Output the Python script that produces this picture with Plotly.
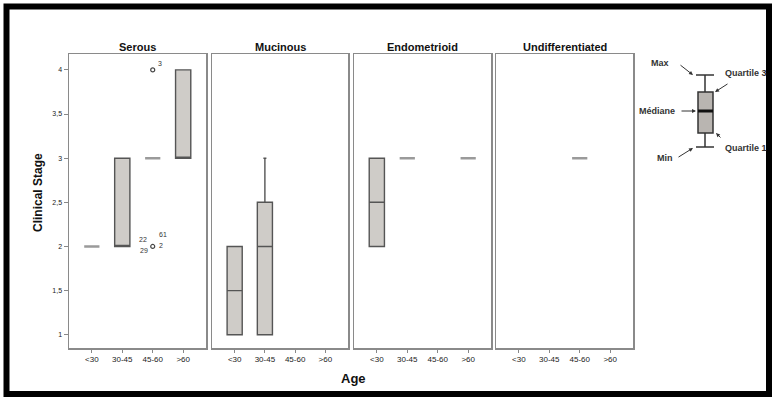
import plotly.graph_objects as go

W, H = 777, 404

# ---------------- data ----------------
age_groups = ["<30", "30-45", "45-60", ">60"]
histologies = ["Serous", "Mucinous", "Endometrioid", "Undifferentiated"]
y_tick_vals = [1, 1.5, 2, 2.5, 3, 3.5, 4]
y_tick_text = ["1", "1,5", "2", "2,5", "3", "3,5", "4"]

# box statistics per histology (Clinical Stage by age group)
serous_age = ["<30", "30-45", "45-60", ">60"]
serous_min = [2, 2, 3, 3]
serous_q1 = [2, 2, 3, 3]
serous_median = [2, 2, 3, 3]
serous_q3 = [2, 3, 3, 4]
serous_max = [2, 3, 3, 4]

mucinous_age = ["<30", "30-45"]
mucinous_min = [1, 1]
mucinous_q1 = [1, 1]
mucinous_median = [1.5, 2]
mucinous_q3 = [2, 2.5]
mucinous_max = [2, 3]

endometrioid_age = ["<30", "30-45", ">60"]
endometrioid_min = [2, 3, 3]
endometrioid_q1 = [2, 3, 3]
endometrioid_median = [2.5, 3, 3]
endometrioid_q3 = [3, 3, 3]
endometrioid_max = [3, 3, 3]

undiff_age = ["45-60"]
undiff_min = [3]
undiff_q1 = [3]
undiff_median = [3]
undiff_q3 = [3]
undiff_max = [3]

# outliers (Serous panel) with case labels
serous_outlier_age = ["45-60", "45-60"]
serous_outlier_val = [4, 2]
serous_outlier_labels = [["3"], ["22", "61", "2", "29"]]

panels = [
    (serous_age, serous_min, serous_q1, serous_median, serous_q3, serous_max),
    (mucinous_age, mucinous_min, mucinous_q1, mucinous_median, mucinous_q3, mucinous_max),
    (endometrioid_age, endometrioid_min, endometrioid_q1, endometrioid_median, endometrioid_q3, endometrioid_max),
    (undiff_age, undiff_min, undiff_q1, undiff_median, undiff_q3, undiff_max),
]

# ---------------- layout helpers ----------------
def px(x):
    return x / W

def py(y):
    return 1 - y / H

panel_x = [(69, 206), (212, 348), (354, 491), (496, 633)]
panel_top, panel_bottom = 54, 348

FONT = "Liberation Sans"
fig = go.Figure()

for i, (ages, mn, q1, med, q3, mx) in enumerate(panels):
    xa = "x" if i == 0 else f"x{i+1}"
    ya = "y" if i == 0 else f"y{i+1}"
    for j in range(len(ages)):
        flat = q1[j] == q3[j]
        fig.add_trace(go.Box(
            x=[ages[j]], q1=[q1[j]], median=[med[j]], q3=[q3[j]],
            lowerfence=[mn[j]], upperfence=[mx[j]],
            width=0.5, whiskerwidth=0.2,
            fillcolor="#cfccc8" if not flat else "rgba(0,0,0,0)",
            line=dict(color="#9a9a9a" if flat else "#555555", width=2.6 if flat else 1.4),
            boxpoints=False, showlegend=False, hoverinfo="skip",
            xaxis=xa, yaxis=ya,
        ))

# outliers
fig.add_trace(go.Scatter(
    x=serous_outlier_age, y=serous_outlier_val, mode="markers",
    marker=dict(symbol="circle-open", size=4, color="#444444", line=dict(width=1.2)),
    showlegend=False, hoverinfo="skip", xaxis="x", yaxis="y",
))
label_offsets = [[(7, 6)], [(-10, 7), (10, 12), (8, 1), (-9, -4)]]
annotations = []
for k in range(len(serous_outlier_val)):
    for lab, (dx, dy) in zip(serous_outlier_labels[k], label_offsets[k]):
        annotations.append(dict(
            x=serous_outlier_age[k], y=serous_outlier_val[k], xref="x", yref="y",
            text=lab, showarrow=False, xshift=dx, yshift=dy,
            xanchor="center", yanchor="middle",
            font=dict(family=FONT, size=7, color="#333333"),
        ))

layout_axes = {}
for i, (x0, x1) in enumerate(panel_x):
    sfx = "" if i == 0 else str(i + 1)
    layout_axes[f"xaxis{sfx}"] = dict(
        domain=[px(x0), px(x1)], anchor=f"y{sfx}",
        type="category", categoryorder="array", categoryarray=age_groups,
        range=[-0.75, 3.75], tickmode="array", tickvals=age_groups, ticktext=age_groups,
        ticks="outside", ticklen=3, tickcolor="#888888", tickwidth=1,
        tickfont=dict(family=FONT, size=8, color="#222222"),
        showline=True, linecolor="#8a8a8a", linewidth=1.5, mirror=True,
        showgrid=False, zeroline=False, fixedrange=True,
    )
    layout_axes[f"yaxis{sfx}"] = dict(
        domain=[py(panel_bottom), py(panel_top)], anchor=f"x{sfx}",
        range=[0.85, 4.18], tickmode="array", tickvals=y_tick_vals, ticktext=y_tick_text,
        ticks="outside" if i == 0 else "", ticklen=4, tickcolor="#888888",
        showticklabels=(i == 0),
        tickfont=dict(family=FONT, size=7, color="#222222"),
        showline=True, linecolor="#8a8a8a", linewidth=1.5, mirror=True,
        showgrid=False, zeroline=False, fixedrange=True,
    )
    annotations.append(dict(
        x=px((x0 + x1) / 2), y=py(47), xref="paper", yref="paper",
        xanchor="center", yanchor="middle",
        text=f"<b>{histologies[i]}</b>", showarrow=False,
        font=dict(family=FONT, size=11, color="#111111"),
    ))

# axis titles
annotations.append(dict(x=px(38), y=py(193), xref="paper", yref="paper",
                        xanchor="center", yanchor="middle",
                        text="<b>Clinical Stage</b>", textangle=-90, showarrow=False,
                        font=dict(family=FONT, size=12, color="#111111")))
annotations.append(dict(x=px(353), y=py(378), xref="paper", yref="paper",
                        xanchor="center", yanchor="middle",
                        text="<b>Age</b>", showarrow=False,
                        font=dict(family=FONT, size=13, color="#111111")))

# ---------------- explanatory box legend ----------------
shapes = []
lg = "#333333"
shapes.append(dict(type="line", xref="paper", yref="paper", x0=px(705), x1=px(705), y0=py(75), y1=py(92), line=dict(color=lg, width=1.5)))
shapes.append(dict(type="line", xref="paper", yref="paper", x0=px(705), x1=px(705), y0=py(133), y1=py(147), line=dict(color=lg, width=1.5)))
shapes.append(dict(type="line", xref="paper", yref="paper", x0=px(696), x1=px(714), y0=py(75), y1=py(75), line=dict(color=lg, width=1.5)))
shapes.append(dict(type="line", xref="paper", yref="paper", x0=px(696), x1=px(714), y0=py(147), y1=py(147), line=dict(color=lg, width=1.5)))
shapes.append(dict(type="rect", xref="paper", yref="paper", x0=px(698), x1=px(713), y0=py(133), y1=py(92),
                   fillcolor="#b9b5b1", line=dict(color=lg, width=1.5)))
shapes.append(dict(type="line", xref="paper", yref="paper", x0=px(698), x1=px(713), y0=py(111), y1=py(111), line=dict(color="#111111", width=3)))

legend_font = dict(family=FONT, size=9, color="#333333")
legend_items = [
    ("<b>Max</b>", 660, 63, "center", (679, 64), (693, 75)),
    ("<b>Médiane</b>", 677, 111, "right", (680, 111), (696, 111)),
    ("<b>Min</b>", 665, 158, "center", (677, 158), (693, 148)),
    ("<b>Quartile 3</b>", 723, 73, "left", (729, 83), (715, 92)),
    ("<b>Quartile 1</b>", 723, 148, "left", (722, 139), (716, 133)),
]
for txt, tx, ty, anchor, (ax0, ay0), (ax1, ay1) in legend_items:
    annotations.append(dict(x=px(tx), y=py(ty), xref="paper", yref="paper", text=txt,
                            showarrow=False, xanchor=anchor, yanchor="middle", font=legend_font))
    annotations.append(dict(x=px(ax1), y=py(ay1), xref="paper", yref="paper", text="",
                            showarrow=True, arrowhead=2, arrowsize=0.8, arrowwidth=1,
                            arrowcolor="#333333", ax=ax0 - ax1, ay=ay0 - ay1, axref="pixel", ayref="pixel"))

# outer black frame
shapes.append(dict(type="rect", xref="paper", yref="paper", x0=px(6.5), x1=px(769), y0=py(394), y1=py(6.5),
                   line=dict(color="black", width=6), fillcolor="rgba(0,0,0,0)", layer="above"))

fig.update_layout(
    width=W, height=H, autosize=False,
    margin=dict(l=0, r=0, t=0, b=0),
    paper_bgcolor="white", plot_bgcolor="white",
    boxmode="overlay", showlegend=False,
    annotations=annotations, shapes=shapes,
    **layout_axes,
)

fig.write_html("out.html", config={"displayModeBar": False, "staticPlot": True},
               post_script="document.body.style.margin='0';document.body.style.overflow='hidden';")
